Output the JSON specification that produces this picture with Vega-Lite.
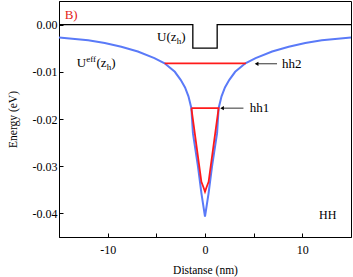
{
  "$schema": "https://vega.github.io/schema/vega-lite/v6.json",
  "width": 292,
  "height": 236,
  "autosize": "none",
  "padding": {"left": 59, "top": 1, "right": 2, "bottom": 40},
  "config": {
    "view": {"stroke": "black", "strokeWidth": 1},
    "font": "Liberation Serif",
    "axis": {
      "grid": false,
      "domainColor": "black",
      "tickColor": "black",
      "labelColor": "black",
      "titleColor": "black",
      "labelFont": "Liberation Serif",
      "titleFont": "Liberation Serif",
      "labelFontSize": 12,
      "titleFontSize": 11.5,
      "titleFontWeight": "normal"
    }
  },
  "datasets": {
    "U": [
      {"z": -15, "e": 0, "i": 0},
      {"z": -1.25, "e": 0, "i": 1},
      {"z": -1.25, "e": -0.005, "i": 2},
      {"z": 1.25, "e": -0.005, "i": 3},
      {"z": 1.25, "e": 0, "i": 4},
      {"z": 15, "e": 0, "i": 5}
    ],
    "Ueff": [
      {"z": -15, "e": -0.00275},
      {"z": -12, "e": -0.0033},
      {"z": -10.3, "e": -0.0039},
      {"z": -8.6, "e": -0.0047},
      {"z": -6.9, "e": -0.0057},
      {"z": -5.2, "e": -0.0071},
      {"z": -4.15, "e": -0.0082},
      {"z": -3.1, "e": -0.01},
      {"z": -2.5, "e": -0.0117},
      {"z": -2.05, "e": -0.0133},
      {"z": -1.7, "e": -0.0152},
      {"z": -1.4, "e": -0.0177},
      {"z": -1.24, "e": -0.023},
      {"z": -0.72, "e": -0.0301},
      {"z": -0.37, "e": -0.0357},
      {"z": 0, "e": -0.0407},
      {"z": 0.37, "e": -0.0357},
      {"z": 0.72, "e": -0.0301},
      {"z": 1.24, "e": -0.023},
      {"z": 1.4, "e": -0.0177},
      {"z": 1.7, "e": -0.0152},
      {"z": 2.05, "e": -0.0133},
      {"z": 2.5, "e": -0.0117},
      {"z": 3.1, "e": -0.01},
      {"z": 4.15, "e": -0.0082},
      {"z": 5.2, "e": -0.0071},
      {"z": 6.9, "e": -0.0057},
      {"z": 8.6, "e": -0.0047},
      {"z": 10.3, "e": -0.0039},
      {"z": 12, "e": -0.0033},
      {"z": 15, "e": -0.00275}
    ],
    "levels": [
      {"s": "hh2", "i": 0, "z": -4.15, "e": -0.0082},
      {"s": "hh2", "i": 1, "z": 4.2, "e": -0.0082},
      {"s": "hh1", "i": 0, "z": -1.4, "e": -0.0177},
      {"s": "hh1", "i": 1, "z": 1.4, "e": -0.0177},
      {"s": "hh1", "i": 2, "z": 0.37, "e": -0.0333},
      {"s": "hh1", "i": 3, "z": 0.15, "e": -0.0345},
      {"s": "hh1", "i": 4, "z": 0, "e": -0.0354},
      {"s": "hh1", "i": 5, "z": -0.15, "e": -0.0345},
      {"s": "hh1", "i": 6, "z": -0.37, "e": -0.0333},
      {"s": "hh1", "i": 7, "z": -1.4, "e": -0.0177}
    ],
    "arrows": [
      {"z": 5.3, "z2": 7.4, "e": -0.0083, "label": "hh2", "tz": 7.9},
      {"z": 1.75, "z2": 3.95, "e": -0.0177, "label": "hh1", "tz": 4.6}
    ],
    "mainText": [
      {"z": -4.93, "e": -0.00356, "t": "U(z"},
      {"z": -2.45, "e": -0.00356, "t": ")"},
      {"z": -13.18, "e": -0.00907, "t": "U"},
      {"z": -11.15, "e": -0.00907, "t": "(z"},
      {"z": -9.62, "e": -0.00907, "t": ")"}
    ],
    "subText": [
      {"z": -2.91, "e": -0.00356, "t": "h"},
      {"z": -10.1, "e": -0.00907, "t": "h"}
    ],
    "supText": [
      {"z": -12.2, "e": -0.00907, "t": "eff"}
    ],
    "redText": [
      {"z": -14.42, "e": 0.00206, "t": "B)"}
    ],
    "hhText": [
      {"z": 13.5, "e": -0.0403, "t": "HH"}
    ]
  },
  "layer": [
    {
      "data": {"name": "U"},
      "mark": {"type": "line", "color": "black", "strokeWidth": 1.3},
      "encoding": {
        "x": {
          "field": "z", "type": "quantitative",
          "scale": {"domain": [-15, 15], "nice": false, "zero": false},
          "axis": {
            "title": "Distanse (nm)",
            "values": [-10, -5, 0, 5, 10],
            "labelExpr": "datum.value % 10 == 0 ? replace(datum.label, '\u2212', '-') : ''",
            "tickSize": -4,
            "labelPadding": 11,
            "titlePadding": 9
          }
        },
        "y": {
          "field": "e", "type": "quantitative",
          "scale": {"domain": [-0.045, 0.005], "nice": false, "zero": false},
          "axis": {
            "title": "Energy (eV)",
            "values": [-0.04, -0.035, -0.03, -0.025, -0.02, -0.015, -0.01, -0.005, 0],
            "labelExpr": "abs(round(datum.value*1000)) % 10 == 0 ? replace(format(datum.value, '.2f'), '\u2212', '-') : ''",
            "tickSize": -4,
            "labelPadding": 6,
            "titlePadding": 14
          }
        },
        "order": {"field": "i"}
      }
    },
    {
      "data": {"name": "Ueff"},
      "mark": {"type": "line", "color": "#5a7af8", "strokeWidth": 2},
      "encoding": {
        "x": {"field": "z", "type": "quantitative"},
        "y": {"field": "e", "type": "quantitative"},
        "order": {"field": "z"}
      }
    },
    {
      "data": {"name": "levels"},
      "mark": {"type": "line", "color": "#ff1a1a", "strokeWidth": 1.8},
      "encoding": {
        "x": {"field": "z", "type": "quantitative"},
        "y": {"field": "e", "type": "quantitative"},
        "detail": {"field": "s"},
        "order": {"field": "i"}
      }
    },
    {
      "data": {"name": "arrows"},
      "mark": {"type": "rule", "color": "#333333", "strokeWidth": 1},
      "encoding": {
        "x": {"field": "z", "type": "quantitative"},
        "x2": {"field": "z2"},
        "y": {"field": "e", "type": "quantitative"}
      }
    },
    {
      "data": {"name": "arrows"},
      "mark": {"type": "point", "shape": "triangle-left", "filled": true, "color": "black", "size": 18, "opacity": 1},
      "encoding": {
        "x": {"field": "z", "type": "quantitative"},
        "y": {"field": "e", "type": "quantitative"}
      }
    },
    {
      "data": {"name": "arrows"},
      "mark": {"type": "text", "align": "left", "baseline": "middle", "fontSize": 13, "font": "Liberation Serif", "color": "black"},
      "encoding": {
        "x": {"field": "tz", "type": "quantitative"},
        "y": {"field": "e", "type": "quantitative"},
        "text": {"field": "label"}
      }
    },
    {
      "data": {"name": "mainText"},
      "mark": {"type": "text", "align": "left", "baseline": "alphabetic", "fontSize": 13, "font": "Liberation Serif", "color": "black"},
      "encoding": {
        "x": {"field": "z", "type": "quantitative"},
        "y": {"field": "e", "type": "quantitative"},
        "text": {"field": "t"}
      }
    },
    {
      "data": {"name": "subText"},
      "mark": {"type": "text", "align": "left", "baseline": "alphabetic", "fontSize": 9, "dy": 3, "font": "Liberation Serif", "color": "black"},
      "encoding": {
        "x": {"field": "z", "type": "quantitative"},
        "y": {"field": "e", "type": "quantitative"},
        "text": {"field": "t"}
      }
    },
    {
      "data": {"name": "supText"},
      "mark": {"type": "text", "align": "left", "baseline": "alphabetic", "fontSize": 9, "dy": -5, "font": "Liberation Serif", "color": "black"},
      "encoding": {
        "x": {"field": "z", "type": "quantitative"},
        "y": {"field": "e", "type": "quantitative"},
        "text": {"field": "t"}
      }
    },
    {
      "data": {"name": "redText"},
      "mark": {"type": "text", "align": "left", "baseline": "middle", "fontSize": 13, "font": "Liberation Serif", "color": "#e31a1a"},
      "encoding": {
        "x": {"field": "z", "type": "quantitative"},
        "y": {"field": "e", "type": "quantitative"},
        "text": {"field": "t"}
      }
    },
    {
      "data": {"name": "hhText"},
      "mark": {"type": "text", "align": "right", "baseline": "middle", "fontSize": 12, "font": "Liberation Serif", "color": "black"},
      "encoding": {
        "x": {"field": "z", "type": "quantitative"},
        "y": {"field": "e", "type": "quantitative"},
        "text": {"field": "t"}
      }
    }
  ]
}
